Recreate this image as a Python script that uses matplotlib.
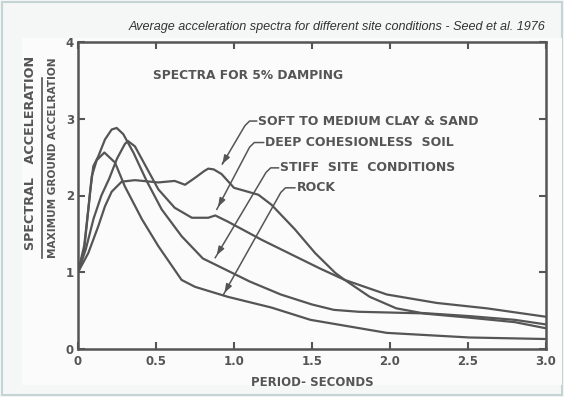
import matplotlib
matplotlib.use("Agg")
import matplotlib.pyplot as plt
from matplotlib.patches import Rectangle

# values (period in s, Sa / max ground acc.)
soft_T = [0, 0.066, 0.13, 0.173, 0.216, 0.28, 0.365, 0.515, 0.62, 0.686, 0.75, 0.81, 0.835,
          0.87, 0.92, 1.0, 1.07, 1.156, 1.24, 1.39, 1.52, 1.65, 1.71, 1.87, 2.04, 2.2, 2.5, 2.8, 3.0]
soft_sa = [1.0, 1.25, 1.60, 1.86, 2.05, 2.18, 2.20, 2.17, 2.19, 2.14, 2.23, 2.32, 2.35,
           2.34, 2.28, 2.10, 2.06, 2.01, 1.88, 1.56, 1.25, 0.99, 0.90, 0.68, 0.53, 0.47, 0.43, 0.38, 0.32]

deep_T = [0, 0.05, 0.1, 0.15, 0.2, 0.25, 0.3, 0.32, 0.365, 0.44, 0.515, 0.62, 0.73, 0.835,
          0.88, 0.96, 1.18, 1.39, 1.55, 1.71, 1.98, 2.3, 2.62, 3.0]
deep_sa = [1.0, 1.3, 1.7, 2.0, 2.22, 2.48, 2.67, 2.71, 2.64, 2.36, 2.08, 1.84, 1.71, 1.71,
           1.74, 1.66, 1.42, 1.21, 1.05, 0.90, 0.71, 0.60, 0.53, 0.42]

stiff_T = [0, 0.04, 0.077, 0.098, 0.13, 0.173, 0.216, 0.248, 0.29, 0.355, 0.44, 0.536, 0.664,
           0.8, 0.95, 1.1, 1.3, 1.5, 1.64, 1.8, 2.0, 2.2, 2.5, 2.8, 3.0]
stiff_sa = [1.0, 1.3, 2.03, 2.38, 2.51, 2.73, 2.86, 2.88, 2.80, 2.56, 2.19, 1.82, 1.47,
            1.18, 1.03, 0.88, 0.71, 0.58, 0.51, 0.485, 0.475, 0.465, 0.41, 0.35, 0.27]

rock_T = [0, 0.04, 0.066, 0.088, 0.12, 0.169, 0.237, 0.3, 0.41, 0.515, 0.664, 0.75, 0.96,
          1.24, 1.49, 1.98, 2.51, 3.0]
rock_sa = [1.0, 1.35, 1.82, 2.25, 2.46, 2.56, 2.43, 2.12, 1.69, 1.34, 0.90, 0.81, 0.68,
           0.54, 0.38, 0.21, 0.15, 0.13]

x_ticks = [0, 0.5, 1.0, 1.5, 2.0, 2.5, 3.0]
x_ticklabels = ["0", "0.5", "1.0", "1.5", "2.0", "2.5", "3.0"]
y_ticks = [0, 1, 2, 3, 4]

ink = "#555555"

fig = plt.figure(figsize=(5.64, 3.97), dpi=100, facecolor="#f5f7f7")
# outer frame and scanned sheet
fig.patches.append(Rectangle((0.003, 0.004), 0.994, 0.992, transform=fig.transFigure,
                             fill=False, edgecolor="#c6d3d3", linewidth=1.5, zorder=-2))
fig.patches.append(Rectangle((22 / 564, 12 / 397), 540 / 564, 347 / 397, transform=fig.transFigure,
                             facecolor="#fbfbfb", edgecolor="none", zorder=-1))

ax = fig.add_axes([78 / 564, 1 - 349 / 397, 468 / 564, 307 / 397])
ax.set_zorder(2)
ax.set_facecolor("none")

for T, sa in [(soft_T, soft_sa), (deep_T, deep_sa), (stiff_T, stiff_sa), (rock_T, rock_sa)]:
    ax.plot(T, sa, color=ink, lw=1.6, solid_joinstyle="round", solid_capstyle="round")

ax.set_xlim(0, 3.0)
ax.set_ylim(0, 4)
for s in ax.spines.values():
    s.set_color(ink)
    s.set_linewidth(1.8)

ax.set_xticks(x_ticks)
ax.set_xticklabels(x_ticklabels)
ax.set_yticks(y_ticks)
ax.tick_params(direction="in", length=5, width=1.5, color=ink, top=True, right=True,
               labelsize=8.5, labelcolor=ink)
ax.tick_params(axis="x", pad=4)
ax.tick_params(axis="y", pad=3)
for lab in ax.get_xticklabels() + ax.get_yticklabels():
    lab.set_fontweight("bold")

ax.set_xlabel("PERIOD- SECONDS", fontsize=8.5, fontweight="bold", color=ink, labelpad=6)

# two-line y label with fraction bar
fig.text(31 / 564, 1 - 153 / 397, "SPECTRAL   ACCELERATION", rotation=90, ha="center", va="center",
         fontsize=9.2, fontweight="bold", color=ink, zorder=3)
fig.text(53 / 564, 1 - 158 / 397, "MAXIMUM GROUND ACCELRATION", rotation=90, ha="center", va="center",
         fontsize=7.6, fontweight="bold", color=ink, zorder=3)
fig.add_artist(plt.Line2D([42 / 564, 42 / 564], [1 - 258 / 397, 1 - 78 / 397], color=ink, lw=1.2, zorder=3))

ax.text(0.48, 3.56, "SPECTRA FOR 5% DAMPING", fontsize=8.8, fontweight="bold", color=ink,
        ha="left", va="center")


def leader(text, xt, yt, corner, tip):
    ax.text(xt, yt, text, fontsize=9, fontweight="bold", color=ink, ha="left", va="center")
    px = [tip[0], corner[0], corner[0] + 0.03, xt - 0.01]
    py = [tip[1], corner[1], yt, yt]
    ax.plot(px, py, color=ink, lw=1.1, solid_joinstyle="round")
    ax.annotate("", xy=tip, xytext=(tip[0] + (corner[0] - tip[0]) * 0.1, tip[1] + (corner[1] - tip[1]) * 0.1),
                arrowprops=dict(arrowstyle="-|>,head_length=0.5,head_width=0.18", color=ink, lw=1.1))


leader("SOFT TO MEDIUM CLAY & SAND", 1.155, 2.97, (1.07, 2.91), (0.925, 2.41))
leader("DEEP COHESIONLESS  SOIL", 1.20, 2.69, (1.10, 2.63), (0.89, 1.82))
leader("STIFF  SITE  CONDITIONS", 1.295, 2.36, (1.205, 2.30), (0.88, 1.19))
leader("ROCK", 1.40, 2.10, (1.30, 2.04), (0.93, 0.70))

fig.text(545 / 564, 1 - 27 / 397,
         "Average acceleration spectra for different site conditions - Seed et al. 1976",
         ha="right", va="center", fontsize=9.1, style="italic", family="Liberation Sans",
         color="#333333", zorder=3)

fig.savefig("out.png", dpi=100, facecolor=fig.get_facecolor())
